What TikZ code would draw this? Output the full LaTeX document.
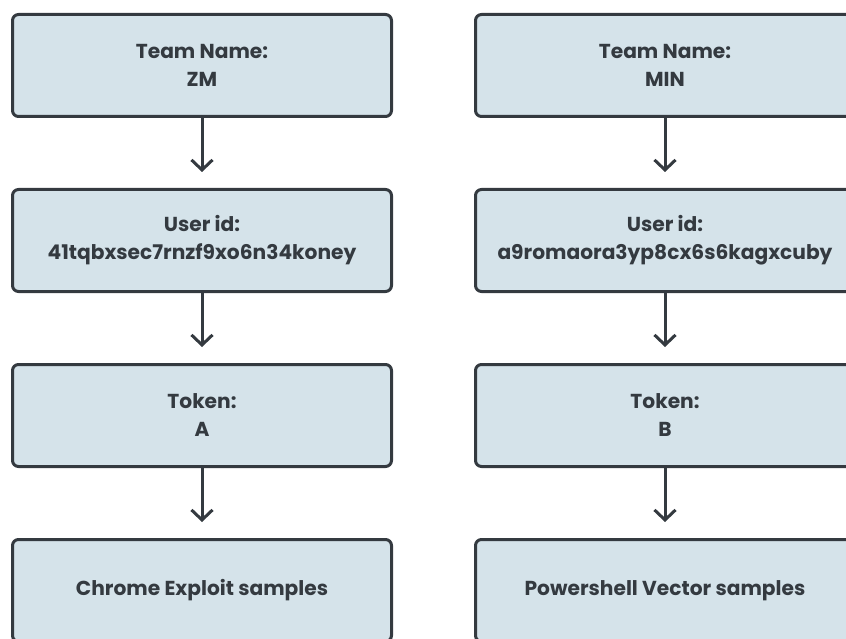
\documentclass[tikz,border=0pt]{standalone}
\usepackage{fontspec}
\setmainfont{Poppins}
\usetikzlibrary{arrows.meta}
\definecolor{boxfill}{HTML}{D5E3EA}
\definecolor{ink}{HTML}{343A40}
\tikzset{
  stepbox/.style={draw=ink, fill=boxfill, line width=3pt, rounded corners=6pt,
    minimum width=379pt, minimum height=102pt, inner sep=0pt, align=center,
    text=ink, font=\fontsize{20.2}{28}\selectfont\bfseries},
  flow/.style={draw=ink, line width=3pt, shorten >=16pt,
    -{Straight Barb[length=10pt,width=21pt,line width=3pt]}}
}
\begin{document}
\begin{tikzpicture}[x=1pt,y=-1pt]
\useasboundingbox (0,0) rectangle (846,639);
\clip (0,0) rectangle (846,639);
% left column
\node[stepbox] (l1) at (202,65.5) {Team Name:\\ZM};
\node[stepbox] (l2) at (202,240.5) {User id:\\41tqbxsec7rnzf9xo6n34koney};
\node[stepbox] (l3) at (202,415.5) {Token:\\A};
\node[stepbox] (l4) at (202,590.5) {Chrome Exploit samples};
% right column
\node[stepbox] (r1) at (665,65.5) {Team Name:\\MIN};
\node[stepbox] (r2) at (665,240.5) {User id:\\a9romaora3yp8cx6s6kagxcuby};
\node[stepbox] (r3) at (665,415.5) {Token:\\B};
\node[stepbox] (r4) at (665,590.5) {Powershell Vector samples};
\draw[flow] (l1.south) -- (l2.north);
\draw[flow] (l2.south) -- (l3.north);
\draw[flow] (l3.south) -- (l4.north);
\draw[flow] (r1.south) -- (r2.north);
\draw[flow] (r2.south) -- (r3.north);
\draw[flow] (r3.south) -- (r4.north);
\end{tikzpicture}
\end{document}
